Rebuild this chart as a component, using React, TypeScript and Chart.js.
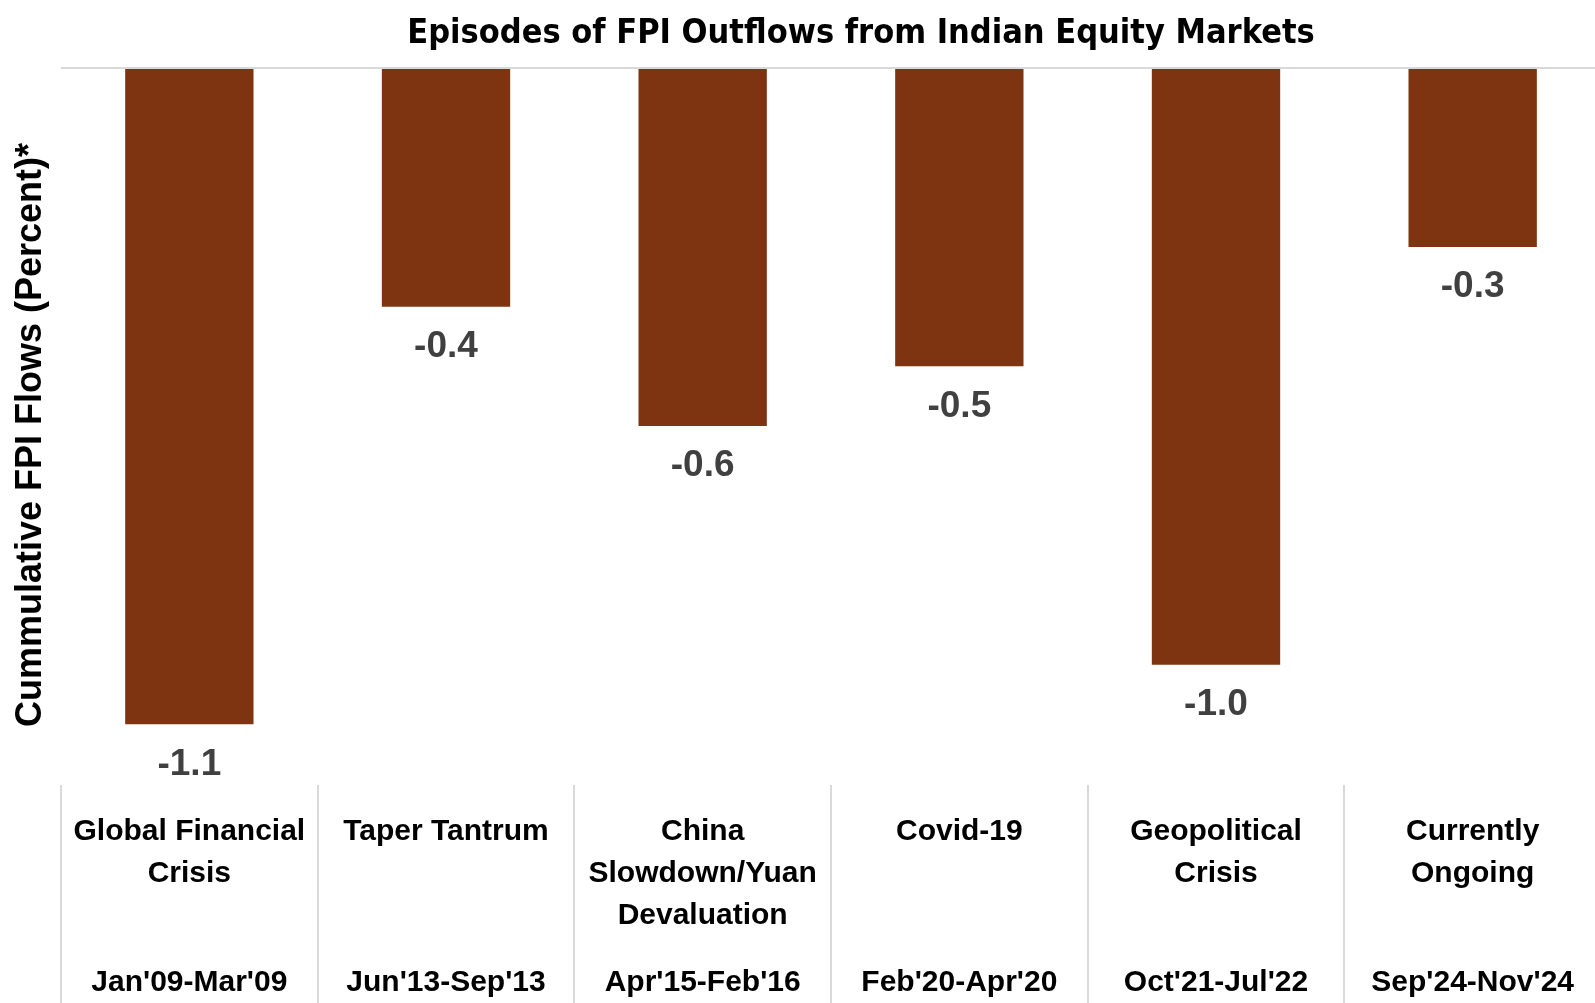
import React, { useEffect, useRef } from 'react';
import { Chart, registerables } from 'chart.js';

Chart.register(...registerables);

const chartTitle = 'Episodes of FPI Outflows from Indian Equity Markets';
const yAxisTitle = 'Cummulative FPI Flows (Percent)*';
const categoryLines = [
  ['Global Financial', 'Crisis'],
  ['Taper Tantrum'],
  ['China', 'Slowdown/Yuan', 'Devaluation'],
  ['Covid-19'],
  ['Geopolitical', 'Crisis'],
  ['Currently', 'Ongoing'],
];
const periods = ["Jan'09-Mar'09", "Jun'13-Sep'13", "Apr'15-Feb'16", "Feb'20-Apr'20", "Oct'21-Jul'22", "Sep'24-Nov'24"];
const values = [-1.1, -0.4, -0.6, -0.5, -1.0, -0.3];
const yMin = -1.2;
const yMax = 0;

const NARROW = "'Liberation Sans Narrow', 'DejaVu Sans Condensed', 'Open Sans', sans-serif";
const WIDE = "'Liberation Sans', Arial, sans-serif";
const BAR_COLOR = '#7E3311';
const SEP_COLOR = '#d9d9d9';

const W = 1610;
const H = 1003;

export default function App() {
  const ref = useRef<HTMLCanvasElement | null>(null);

  useEffect(() => {
    if (!ref.current) return;

    const zeroPad = (scale: any) => {
      scale.paddingLeft = 0;
      scale.paddingRight = 0;
    };

    const decorPlugin = {
      id: 'decor',
      afterDraw(chart: any) {
        const ctx = chart.ctx;
        const xs = chart.scales.x;
        const area = chart.chartArea;
        const step = xs.getPixelForValue(1) - xs.getPixelForValue(0);
        ctx.save();
        // separators in category-label area
        ctx.strokeStyle = SEP_COLOR;
        ctx.lineWidth = 2;
        for (let i = 0; i <= values.length; i++) {
          const px = Math.round(xs.getPixelForValue(0) - step / 2 + i * step);
          ctx.beginPath();
          ctx.moveTo(px, area.bottom + 1);
          ctx.lineTo(px, chart.height);
          ctx.stroke();
        }
        // data labels
        const meta = chart.getDatasetMeta(0);
        ctx.fillStyle = '#404040';
        ctx.font = `bold 37px ${WIDE}`;
        ctx.textAlign = 'center';
        ctx.textBaseline = 'middle';
        meta.data.forEach((el: any, i: number) => {
          ctx.fillText(values[i].toFixed(1), el.x, el.y + 40);
        });
        // title
        ctx.fillStyle = '#000000';
        ctx.font = `bold 34px ${NARROW}`;
        ctx.fillText(chartTitle, 861, 34);
        // y-axis title
        ctx.save();
        ctx.translate(31, 435);
        ctx.rotate(-Math.PI / 2);
        ctx.font = `bold 36px ${WIDE}`;
        ctx.fillText(yAxisTitle, 0, 0);
        ctx.restore();
        ctx.restore();
      },
    };

    const chart = new Chart(ref.current, {
      type: 'bar',
      data: {
        labels: categoryLines,
        datasets: [
          {
            data: values,
            backgroundColor: BAR_COLOR,
            borderWidth: 0,
            categoryPercentage: 1,
            barPercentage: 0.5,
            xAxisID: 'x',
            yAxisID: 'y',
          },
        ],
      },
      options: {
        responsive: false,
        animation: false,
        layout: { padding: { top: 68, right: W - 1601, left: 0, bottom: 0 } },
        plugins: {
          legend: { display: false },
          tooltip: { enabled: false },
          title: { display: false },
        },
        scales: {
          x: {
            type: 'category',
            position: 'bottom',
            offset: true,
            grid: { display: false, drawTicks: false },
            border: { display: false },
            ticks: {
              color: '#000000',
              font: { family: WIDE, size: 30, weight: 'bold', lineHeight: '42px' },
              maxRotation: 0,
              minRotation: 0,
              autoSkip: false,
              padding: 27,
            },
            afterFit(scale: any) {
              scale.height = 150;
              zeroPad(scale);
            },
          },
          x2: {
            type: 'category',
            position: 'bottom',
            labels: periods,
            offset: true,
            grid: { display: false, drawTicks: false },
            border: { display: false },
            ticks: {
              color: '#000000',
              font: { family: WIDE, size: 30, weight: 'bold', lineHeight: '42px' },
              maxRotation: 0,
              minRotation: 0,
              autoSkip: false,
              padding: 28,
            },
            afterFit(scale: any) {
              scale.height = 69;
              zeroPad(scale);
            },
          },
          y: {
            type: 'linear',
            min: yMin,
            max: yMax,
            ticks: { display: false, stepSize: 0.2 },
            grid: {
              drawTicks: false,
              lineWidth: 2,
              color: (c: any) => (c.tick && Math.abs(c.tick.value) < 1e-9 ? SEP_COLOR : 'rgba(0,0,0,0)'),
            },
            border: { display: false },
            title: { display: false },
            afterFit(scale: any) {
              scale.width = 61;
              scale.paddingTop = 0;
              scale.paddingBottom = 0;
            },
          },
        },
      },
      plugins: [decorPlugin],
    });

    return () => chart.destroy();
  }, []);

  return (
    <div style={{ position: 'fixed', left: 0, top: 0, width: W, height: H, background: '#ffffff' }}>
      <canvas ref={ref} width={W} height={H} style={{ width: W, height: H, display: 'block' }} />
    </div>
  );
}
